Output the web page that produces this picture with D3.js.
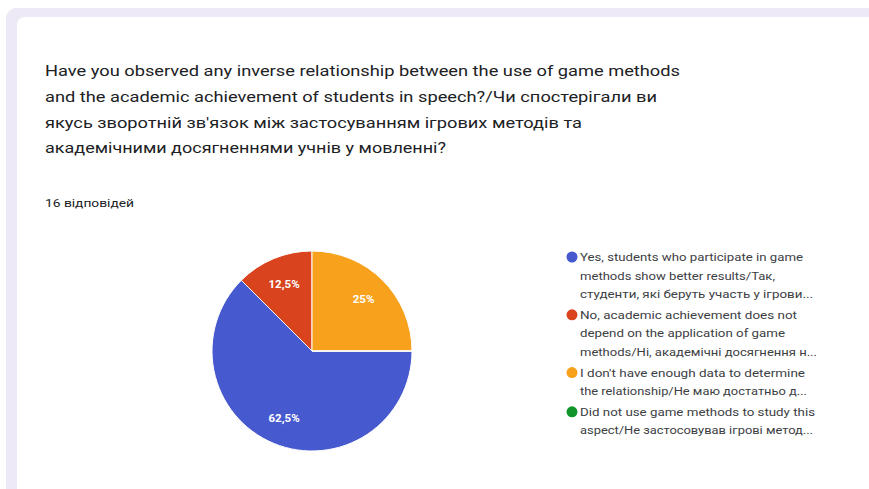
<!doctype html>
<html>
<head>
<meta charset="utf-8"/>
<title>Pie</title>
<style>
body{margin:0;background:#fff;}
svg{display:block;font-family:Roboto, Arial, sans-serif;}
</style>
<script src="https://d3js.org/d3.v7.min.js"></script>
</head>
<body>
<script>
// data (16 responses)
var categories = [
  ["Yes, students who participate in game", "methods show better results/Так,", "студенти, які беруть участь у ігрови..."],
  ["No, academic achievement does not", "depend on the application of game", "methods/Ні, академічні досягнення н..."],
  ["I don't have enough data to determine", "the relationship/Не маю достатньо д..."],
  ["Did not use game methods to study this", "aspect/Не застосовував ігрові метод..."]
];
var counts = [10, 2, 4, 0];
var colors = ["#4759cf", "#d9441f", "#f7a11c", "#12962b"];
var titleLines = [
  "Have you observed any inverse relationship between the use of game methods",
  "and the academic achievement of students in speech?/Чи спостерігали ви",
  "якусь зворотній зв'язок між застосуванням ігрових методів та",
  "академічними досягненнями учнів у мовленні?"
];
var responses = "16 відповідей";

var W = 869, H = 489;
var svg = d3.select("body").append("svg").attr("width", W).attr("height", H);

// card with lavender edge
svg.append("rect").attr("x", 6).attr("y", 8).attr("width", W + 20).attr("height", H + 20)
  .attr("rx", 10).attr("fill", "#ede9f7");
svg.append("rect").attr("x", 17).attr("y", 17).attr("width", W + 20).attr("height", H + 20)
  .attr("rx", 8).attr("fill", "#fff");

// title
var titleW = [635, 612, 537, 401];
svg.selectAll("text.title").data(titleLines).enter().append("text")
  .attr("class", "title")
  .attr("x", 45)
  .attr("y", function(d, i){ return 76 + i * 25.8; })
  .attr("font-size", 15)
  .attr("fill", "#202124")
  .attr("textLength", function(d, i){ return titleW[i]; })
  .attr("lengthAdjust", "spacingAndGlyphs")
  .text(function(d){ return d; });

svg.append("text").attr("x", 45).attr("y", 207)
  .attr("font-size", 10).attr("fill", "#202124")
  .attr("textLength", 89).attr("lengthAdjust", "spacingAndGlyphs")
  .text(responses);

// pie
var cx = 312, cy = 351, R = 100;
var pie = d3.pie().sort(null).startAngle(Math.PI / 2).endAngle(Math.PI / 2 + 2 * Math.PI);
var arcs = pie(counts);
var arc = d3.arc().innerRadius(0).outerRadius(R);
var labelArc = d3.arc().innerRadius(73).outerRadius(73);
var total = d3.sum(counts);

var g = svg.append("g").attr("transform", "translate(" + cx + "," + cy + ")");
g.selectAll("path").data(arcs).enter().append("path")
  .attr("d", arc)
  .attr("fill", function(d, i){ return colors[i]; })
  .attr("stroke", "#fff")
  .attr("stroke-width", 1);

g.selectAll("text").data(arcs.filter(function(d){ return d.data > 0; })).enter().append("text")
  .attr("transform", function(d){ return "translate(" + labelArc.centroid(d) + ")"; })
  .attr("text-anchor", "middle")
  .attr("dy", "0.35em")
  .attr("font-size", 11.5)
  .attr("font-weight", "bold")
  .attr("fill", "#fff")
  .text(function(d){ return String(d.data / total * 100).replace(".", ",") + "%"; });

// legend
var lineH = 18.6, gap = 2;
var lineW = [
  [223, 195, 233],
  [217, 205, 237],
  [225, 227],
  [235, 233]
];
var starts = [];
var yy = 257;
categories.forEach(function(c){ starts.push(yy); yy += c.length * lineH + gap; });

var leg = svg.selectAll("g.leg").data(categories).enter().append("g")
  .attr("class", "leg")
  .attr("transform", function(d, i){ return "translate(572," + starts[i] + ")"; });
leg.append("circle").attr("r", 5.5).attr("fill", function(d, i){ return colors[i]; });
leg.each(function(d, i){
  d3.select(this).selectAll("text").data(d).enter().append("text")
    .attr("x", 8)
    .attr("y", function(t, j){ return j * lineH + 4; })
    .attr("font-size", 11)
    .attr("fill", "#3c4043")
    .attr("textLength", function(t, j){ return lineW[i][j]; })
    .attr("lengthAdjust", "spacingAndGlyphs")
    .text(function(t){ return t; });
});
</script>
</body>
</html>
